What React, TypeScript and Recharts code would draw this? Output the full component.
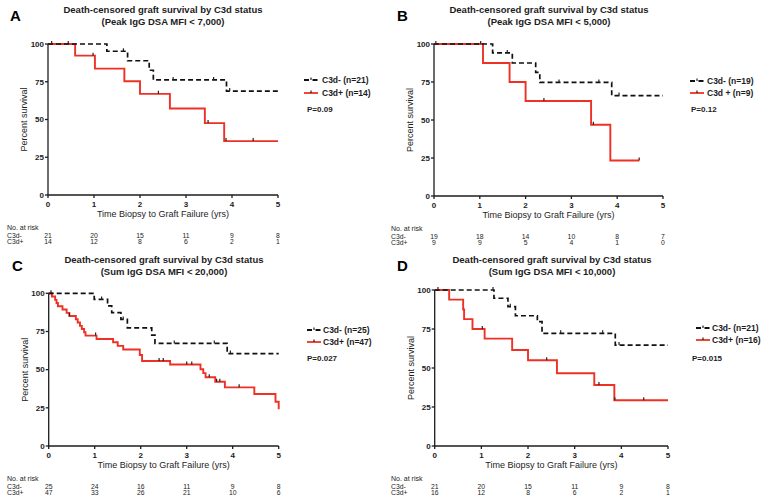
import React from 'react';
import { ComposedChart, Line, Scatter, XAxis, YAxis } from 'recharts';

const FONT = 'Arial, "Liberation Sans", Helvetica, sans-serif';
const RED = '#ee3124';
const INK = '#1c1c1c';

const timeTicks = [0, 1, 2, 3, 4, 5];
const survivalTicks = [0, 25, 50, 75, 100];

// ---- Panel A (Peak IgG DSA MFI < 7,000)
const negA = [
  { t: 0, s: 100 }, { t: 1.28, s: 95.2 }, { t: 1.73, s: 88.9 }, { t: 2.2, s: 82.6 },
  { t: 2.29, s: 76.2 }, { t: 3.88, s: 68.8 }, { t: 5, s: 68.8 },
];
const posA = [
  { t: 0, s: 100 }, { t: 0.59, s: 92.3 }, { t: 1.02, s: 83.7 }, { t: 1.66, s: 75.3 },
  { t: 2.0, s: 67.0 }, { t: 2.65, s: 57.3 }, { t: 3.41, s: 47.6 }, { t: 3.83, s: 35.7 },
  { t: 5, s: 35.7 },
];
const negCensorA = [
  { t: 0.08, s: 100 }, { t: 0.44, s: 100 }, { t: 1.64, s: 95.2 }, { t: 2.72, s: 76.2 },
  { t: 3.6, s: 76.2 }, { t: 3.95, s: 68.8 },
];
const posCensorA = [
  { t: 0.98, s: 92.3 }, { t: 2.4, s: 67.0 }, { t: 3.48, s: 47.6 }, { t: 3.87, s: 35.7 },
  { t: 4.46, s: 35.7 },
];
const riskNegA = [21, 20, 15, 11, 9, 8];
const riskPosA = [14, 12, 8, 6, 2, 1];

// ---- Panel B (Peak IgG DSA MFI < 5,000)
const negB = [
  { t: 0, s: 100 }, { t: 1.28, s: 94.1 }, { t: 1.71, s: 87.5 }, { t: 2.22, s: 81.3 },
  { t: 2.31, s: 74.7 }, { t: 3.88, s: 66.1 }, { t: 5, s: 66.1 },
];
const posB = [
  { t: 0, s: 100 }, { t: 1.07, s: 87.5 }, { t: 1.65, s: 75.0 }, { t: 2.0, s: 62.5 },
  { t: 3.43, s: 46.9 }, { t: 3.85, s: 23.4 }, { t: 4.48, s: 23.4 },
];
const negCensorB = [
  { t: 0.04, s: 100 }, { t: 1.02, s: 100 }, { t: 1.6, s: 94.1 }, { t: 2.73, s: 74.7 },
  { t: 3.6, s: 74.7 }, { t: 4.04, s: 66.1 },
];
const posCensorB = [{ t: 2.4, s: 62.5 }, { t: 3.48, s: 46.9 }, { t: 4.48, s: 23.4 }];
const riskNegB = [19, 18, 14, 10, 8, 7];
const riskPosB = [9, 9, 5, 4, 1, 0];

// ---- Panel C (Sum IgG DSA MFI < 20,000)
const negC = [
  { t: 0, s: 100 }, { t: 0.99, s: 96.0 }, { t: 1.28, s: 91.7 }, { t: 1.37, s: 87.3 },
  { t: 1.57, s: 82.9 }, { t: 1.71, s: 77.4 }, { t: 2.24, s: 72.6 }, { t: 2.31, s: 67.2 },
  { t: 3.88, s: 60.5 }, { t: 5, s: 60.5 },
];
const posC = [
  { t: 0, s: 100 }, { t: 0.07, s: 97.9 }, { t: 0.14, s: 95.7 }, { t: 0.17, s: 93.6 },
  { t: 0.2, s: 91.5 }, { t: 0.3, s: 89.4 }, { t: 0.39, s: 87.2 }, { t: 0.45, s: 85.1 },
  { t: 0.59, s: 83.0 }, { t: 0.63, s: 80.9 }, { t: 0.68, s: 78.7 }, { t: 0.72, s: 76.6 },
  { t: 0.77, s: 74.5 }, { t: 0.8, s: 72.3 }, { t: 1.04, s: 70.1 }, { t: 1.4, s: 67.9 },
  { t: 1.5, s: 65.6 }, { t: 1.62, s: 63.2 }, { t: 1.98, s: 59.6 }, { t: 2.03, s: 55.7 },
  { t: 2.64, s: 53.4 }, { t: 3.3, s: 50.3 }, { t: 3.36, s: 47.7 }, { t: 3.41, s: 45.0 },
  { t: 3.62, s: 42.1 }, { t: 3.83, s: 38.4 }, { t: 4.47, s: 34.1 }, { t: 4.93, s: 29.0 },
  { t: 5.0, s: 24.0 },
];
const negCensorC = [
  { t: 0.05, s: 100 }, { t: 1.15, s: 96.0 }, { t: 1.62, s: 82.9 }, { t: 2.73, s: 67.2 },
  { t: 3.6, s: 67.2 }, { t: 3.95, s: 60.5 },
];
const posCensorC = [
  { t: 0.45, s: 85.1 }, { t: 1.02, s: 72.3 }, { t: 2.4, s: 55.7 }, { t: 2.49, s: 55.7 },
  { t: 3.0, s: 53.4 }, { t: 3.11, s: 53.4 }, { t: 3.49, s: 45.0 }, { t: 3.65, s: 42.1 },
  { t: 3.72, s: 42.1 }, { t: 4.14, s: 38.4 },
];
const riskNegC = [25, 24, 16, 11, 9, 8];
const riskPosC = [47, 33, 26, 21, 10, 6];

// ---- Panel D (Sum IgG DSA MFI < 10,000)
const negD = [
  { t: 0, s: 100 }, { t: 1.27, s: 94.7 }, { t: 1.57, s: 89.3 }, { t: 1.73, s: 83.5 },
  { t: 2.2, s: 79.7 }, { t: 2.3, s: 72.2 }, { t: 3.87, s: 64.7 }, { t: 5, s: 64.7 },
];
const posD = [
  { t: 0, s: 100 }, { t: 0.31, s: 93.8 }, { t: 0.61, s: 87.5 }, { t: 0.63, s: 81.3 },
  { t: 0.81, s: 75.0 }, { t: 1.07, s: 68.8 }, { t: 1.66, s: 61.5 }, { t: 2.0, s: 55.0 },
  { t: 2.62, s: 46.6 }, { t: 3.42, s: 39.1 }, { t: 3.85, s: 29.3 }, { t: 5, s: 29.3 },
];
const negCensorD = [
  { t: 0.07, s: 100 }, { t: 1.25, s: 100 }, { t: 1.62, s: 89.3 }, { t: 2.7, s: 72.2 },
  { t: 3.6, s: 72.2 }, { t: 3.95, s: 64.7 },
];
const posCensorD = [
  { t: 1.02, s: 75.0 }, { t: 2.4, s: 55.0 }, { t: 3.52, s: 39.1 }, { t: 3.86, s: 29.3 },
  { t: 4.48, s: 29.3 },
];
const riskNegD = [21, 20, 15, 11, 9, 8];
const riskPosD = [16, 12, 8, 6, 2, 1];

const TITLE1 = 'Death-censored graft survival by C3d status';

const panels = [
  {
    letter: 'A', title2: '(Peak IgG DSA MFI < 7,000)',
    box: { left: 0, top: 0, width: 384, height: 250 },
    plot: { l: 48, r: 278, t: 44, b: 195 },
    neg: negA, pos: posA, negCensor: negCensorA, posCensor: posCensorA,
    riskNeg: riskNegA, riskPos: riskPosA,
    negLabel: 'C3d- (n=21)', posLabel: 'C3d+ (n=14)', pLabel: 'P=0.09',
    titleX: 163, letterX: 10,
    leg: { icon: 304, text: 322, r1: 80, r2: 93, p: 307, pc: 110 },
  },
  {
    letter: 'B', title2: '(Peak IgG DSA MFI < 5,000)',
    box: { left: 384, top: 0, width: 384, height: 250 },
    plot: { l: 50, r: 279, t: 44, b: 196 },
    neg: negB, pos: posB, negCensor: negCensorB, posCensor: posCensorB,
    riskNeg: riskNegB, riskPos: riskPosB,
    negLabel: 'C3d- (n=19)', posLabel: 'C3d + (n=9)', pLabel: 'P=0.12',
    titleX: 165, letterX: 13,
    leg: { icon: 306, text: 323, r1: 81, r2: 93, p: 307, pc: 110 },
  },
  {
    letter: 'C', title2: '(Sum IgG DSA MFI < 20,000)',
    box: { left: 0, top: 250, width: 384, height: 253 },
    plot: { l: 48.7, r: 278.7, t: 43.3, b: 196 },
    neg: negC, pos: posC, negCensor: negCensorC, posCensor: posCensorC,
    riskNeg: riskNegC, riskPos: riskPosC,
    negLabel: 'C3d- (n=25)', posLabel: 'C3d+ (n=47)', pLabel: 'P=0.027',
    titleX: 164, letterX: 12,
    leg: { icon: 307, text: 323, r1: 80, r2: 92, p: 307, pc: 109 },
  },
  {
    letter: 'D', title2: '(Sum IgG DSA MFI < 10,000)',
    box: { left: 384, top: 250, width: 384, height: 253 },
    plot: { l: 50.7, r: 284, t: 40, b: 196 },
    neg: negD, pos: posD, negCensor: negCensorD, posCensor: posCensorD,
    riskNeg: riskNegD, riskPos: riskPosD,
    negLabel: 'C3d- (n=21)', posLabel: 'C3d+ (n=16)', pLabel: 'P=0.015',
    titleX: 168, letterX: 13,
    leg: { icon: 312, text: 328, r1: 78, r2: 90, p: 308, pc: 109 },
  },
];

const X_AXIS_HEIGHT = 50;

const censorShape = (props: any) => {
  const { cx, cy } = props;
  if (cx == null || cy == null) return <g />;
  return <line x1={cx} x2={cx} y1={cy - 3} y2={cy} stroke="#222" strokeWidth={1.2} />;
};

const makeXTick = (riskNeg: number[], riskPos: number[]) => (props: any) => {
  const { x, y, payload } = props;
  const i = timeTicks.indexOf(payload.value);
  return (
    <g>
      <text x={x} y={y + 7} textAnchor="middle" fontSize={8} fontWeight="bold" fill={INK} fontFamily={FONT}>
        {payload.value}
      </text>
      <text x={x} y={y + 37.5} textAnchor="middle" fontSize={6.8} fill={INK} fontFamily={FONT}>
        {riskNeg[i]}
      </text>
      <text x={x} y={y + 44} textAnchor="middle" fontSize={6.8} fill={INK} fontFamily={FONT}>
        {riskPos[i]}
      </text>
    </g>
  );
};

const makeXLabel = () => (props: any) => {
  const vb = props.viewBox || {};
  const cx = vb.x + vb.width / 2;
  const b = vb.y;
  return (
    <g>
      <text x={cx} y={b + 22.2} textAnchor="middle" fontSize={9} fill={INK} fontFamily={FONT}>
        Time Biopsy to Graft Failure (yrs)
      </text>
      <text x={7} y={b + 34.5} fontSize={7} fill={INK} fontFamily={FONT}>No. at risk</text>
      <text x={7} y={b + 42.5} fontSize={6.8} fill={INK} fontFamily={FONT}>C3d-</text>
      <text x={7} y={b + 49} fontSize={6.8} fill={INK} fontFamily={FONT}>C3d+</text>
    </g>
  );
};

const makeYLabel = () => (props: any) => {
  const vb = props.viewBox || {};
  const cx = vb.x + vb.width - 24;
  const cy = vb.y + vb.height / 2;
  return (
    <text
      x={cx}
      y={cy}
      dy="0.35em"
      transform={`rotate(-90, ${cx}, ${cy})`}
      textAnchor="middle"
      fontSize={9}
      fill={INK}
      fontFamily={FONT}
    >
      Percent survival
    </text>
  );
};

const LegendIcon = ({ dashed }: { dashed: boolean }) => (
  <svg width={14} height={12} style={{ position: 'absolute', left: 0, top: 0 }}>
    <line
      x1={0}
      x2={14}
      y1={6}
      y2={6}
      stroke={dashed ? '#111' : RED}
      strokeWidth={1.8}
      strokeDasharray={dashed ? '5 3.5' : undefined}
    />
    <line x1={7} x2={7} y1={3.5} y2={6} stroke="#222" strokeWidth={1.2} />
  </svg>
);

const Panel = ({ cfg }: { cfg: any }) => {
  const { box, plot, leg } = cfg;
  const margin = {
    top: plot.t,
    right: box.width - plot.r,
    left: 0,
    bottom: box.height - plot.b - X_AXIS_HEIGHT,
  };
  const legendRow = (center: number, dashed: boolean, label: string) => (
    <div style={{ position: 'absolute', left: leg.icon, top: center - 6, height: 12, width: 80 }}>
      <LegendIcon dashed={dashed} />
      <span
        style={{
          position: 'absolute',
          left: leg.text - leg.icon,
          top: 0,
          lineHeight: '12px',
          fontSize: 8.5,
          fontWeight: 'bold',
          whiteSpace: 'nowrap',
          color: INK,
        }}
      >
        {label}
      </span>
    </div>
  );
  return (
    <div
      style={{
        position: 'absolute',
        left: box.left,
        top: box.top,
        width: box.width,
        height: box.height,
        fontFamily: FONT,
      }}
    >
      <ComposedChart width={box.width} height={box.height} margin={margin} style={{ fontFamily: FONT }}>
        <XAxis
          type="number"
          dataKey="t"
          domain={[0, 5]}
          ticks={timeTicks}
          interval={0}
          height={X_AXIS_HEIGHT}
          tickSize={3}
          tickMargin={2}
          axisLine={{ stroke: INK, strokeWidth: 1.3 }}
          tickLine={{ stroke: INK, strokeWidth: 1.3 }}
          tick={makeXTick(cfg.riskNeg, cfg.riskPos)}
          label={makeXLabel()}
        />
        <YAxis
          type="number"
          dataKey="s"
          domain={[0, 100]}
          ticks={survivalTicks}
          interval={0}
          width={plot.l}
          tickSize={3}
          tickMargin={1}
          axisLine={{ stroke: INK, strokeWidth: 1.3 }}
          tickLine={{ stroke: INK, strokeWidth: 1.3 }}
          tick={{ fontSize: 8, fontWeight: 'bold', fill: INK, fontFamily: FONT }}
          label={makeYLabel()}
        />
        <Line
          data={cfg.pos}
          dataKey="s"
          type="stepAfter"
          stroke={RED}
          strokeWidth={1.9}
          dot={false}
          activeDot={false}
          isAnimationActive={false}
        />
        <Line
          data={cfg.neg}
          dataKey="s"
          type="stepAfter"
          stroke="#111"
          strokeWidth={1.7}
          strokeDasharray="5 3"
          dot={false}
          activeDot={false}
          isAnimationActive={false}
        />
        <Scatter data={cfg.posCensor} shape={censorShape} isAnimationActive={false} />
        <Scatter data={cfg.negCensor} shape={censorShape} isAnimationActive={false} />
      </ComposedChart>

      <div
        style={{
          position: 'absolute',
          left: cfg.letterX,
          top: 8,
          fontSize: 15,
          lineHeight: '15px',
          fontWeight: 'bold',
          color: '#000',
        }}
      >
        {cfg.letter}
      </div>
      <div
        style={{
          position: 'absolute',
          left: cfg.titleX - 150,
          width: 300,
          top: 4.4,
          textAlign: 'center',
          fontSize: 9.5,
          lineHeight: '12px',
          fontWeight: 'bold',
          color: INK,
        }}
      >
        <div>{TITLE1}</div>
        <div>{cfg.title2}</div>
      </div>

      {legendRow(leg.r1, true, cfg.negLabel)}
      {legendRow(leg.r2, false, cfg.posLabel)}
      <div
        style={{
          position: 'absolute',
          left: leg.p,
          top: leg.pc - 6,
          lineHeight: '12px',
          fontSize: 8,
          fontWeight: 'bold',
          color: INK,
          whiteSpace: 'nowrap',
        }}
      >
        {cfg.pLabel}
      </div>
    </div>
  );
};

export default function App() {
  return (
    <div
      style={{
        position: 'absolute',
        left: 0,
        top: 0,
        width: 768,
        height: 503,
        background: '#fff',
        overflow: 'hidden',
      }}
    >
      {panels.map((p) => (
        <Panel key={p.letter} cfg={p} />
      ))}
    </div>
  );
}
